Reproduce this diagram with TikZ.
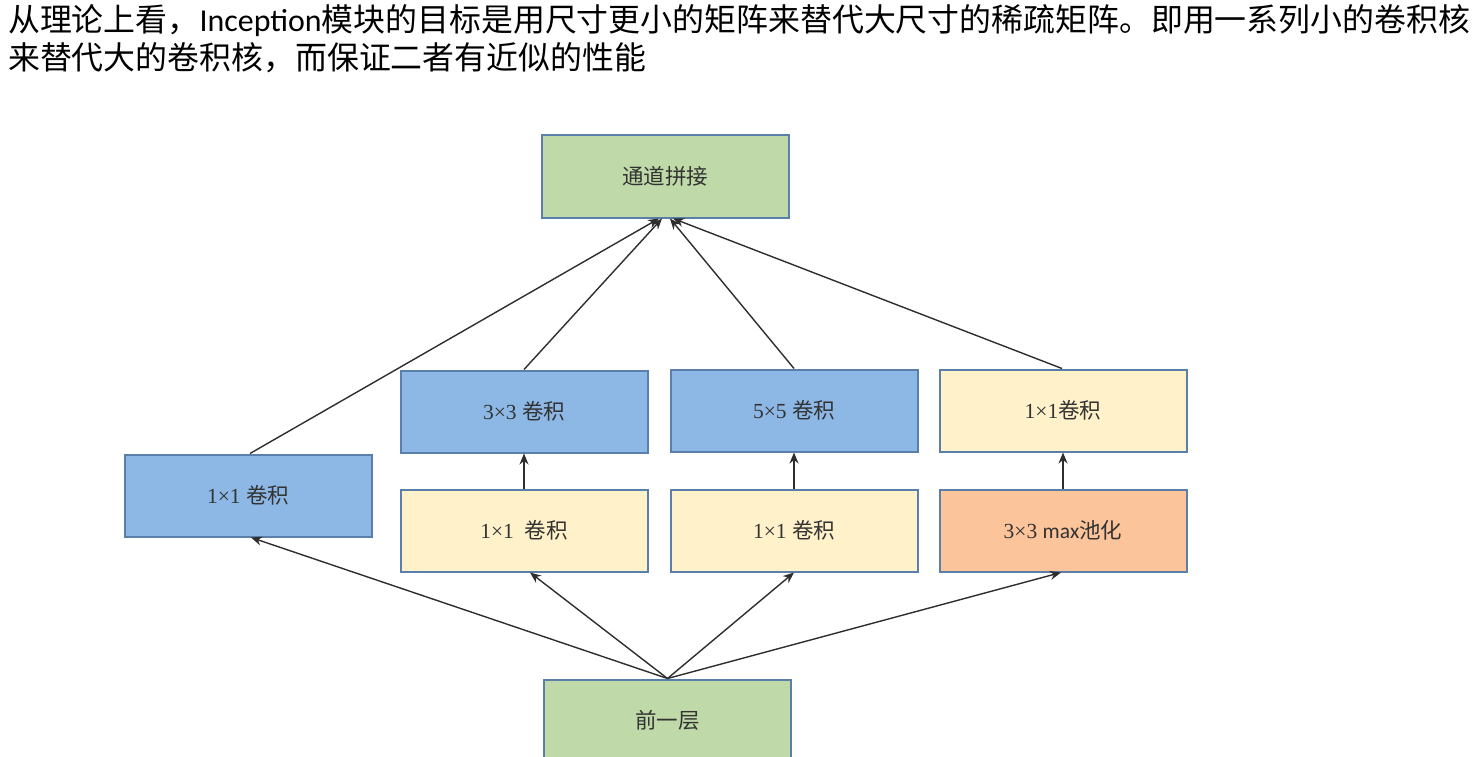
\documentclass[tikz,border=0pt]{standalone}
\usepackage{fontspec}
\setmainfont{Liberation Serif}
\newfontfamily\cjk{Noto Sans CJK SC}
\newfontfamily\carlito{Carlito}
\usetikzlibrary{positioning, arrows.meta}
\definecolor{boxline}{HTML}{5A7FAA}
\definecolor{bluefill}{HTML}{8DB8E6}
\definecolor{yellowfill}{HTML}{FFF1C9}
\definecolor{orangefill}{HTML}{FCC49A}
\definecolor{greenfill}{HTML}{BFD9A8}
\definecolor{arrowgray}{HTML}{2E2E2E}
\tikzset{
    >={Stealth[length=11pt, width=9pt]}, % arrow heads
    layer/.style={draw=boxline, line width=2pt, minimum width=247pt, minimum height=82pt, inner sep=0pt, text=black!80, font=\fontsize{21.5}{25}\selectfont}, % every box
    bluebox/.style={layer, fill=bluefill},
    yellowbox/.style={layer, fill=yellowfill},
    orangebox/.style={layer, fill=orangefill},
    greenbox/.style={layer, fill=greenfill},
    link/.style={->, draw=arrowgray, line width=1.4pt}, % connectors
}
\begin{document}
\begin{tikzpicture}[x=1pt, y=-1pt]
    \useasboundingbox[fill=white] (0,0) rectangle (1472,757);
    % heading
    \node[anchor=base west, inner sep=0pt, font=\fontsize{31.9}{38}\selectfont] (title1) at (8,32)
        {{\cjk 从理论上看，}{\carlito Inception}{\cjk 模块的目标是用尺寸更小的矩阵来替代大尺寸的稀疏矩阵。即用一系列小的卷积核}};
    \node[anchor=base west, inner sep=0pt, font=\fontsize{31.9}{38}\selectfont] (title2) at (8,70)
        {\cjk 来替代大的卷积核，而保证二者有近似的性能};
    % boxes
    \node[greenbox] (concat) at (665,176.5) {\cjk 通道拼接};
    \node[yellowbox] (red3) at (524,530.5) {1×1\ \ {\cjk 卷积}};
    \node[yellowbox, right=21pt of red3] (red5) {1×1 {\cjk 卷积}};
    \node[orangebox, right=20pt of red5] (pool) {3×3 {\carlito max}{\cjk 池化}};
    \node[bluebox, above=35pt of red3] (conv3) {3×3 {\cjk 卷积}};
    \node[bluebox, above=36pt of red5] (conv5) {5×5 {\cjk 卷积}};
    \node[yellowbox, above=36pt of pool] (poolproj) {1×1{\cjk 卷积}};
    \node[bluebox, left=27pt of red3, yshift=35pt] (conv1) {1×1 {\cjk 卷积}};
    \node[greenbox] (prev) at (667.5,720.5) {\cjk 前一层};
    % connectors
    \draw[link] (prev.north) -- ([xshift=3pt]conv1.south);
    \draw[link] (prev.north) -- ([xshift=6pt]red3.south);
    \draw[link] (prev.north) -- (red5.south);
    \draw[link] (prev.north) -- ([xshift=-2pt]pool.south);
    \draw[link] (red3.north) -- (conv3.south);
    \draw[link] (red5.north) -- (conv5.south);
    \draw[link] (pool.north) -- (poolproj.south);
    \draw[link] ([xshift=2pt]conv1.north) -- ([xshift=-6pt]concat.south);
    \draw[link] (conv3.north) -- ([xshift=-3pt]concat.south);
    \draw[link] (conv5.north) -- ([xshift=5pt]concat.south);
    \draw[link] ([xshift=-1pt]poolproj.north) -- ([xshift=8pt]concat.south);
\end{tikzpicture}
\end{document}
